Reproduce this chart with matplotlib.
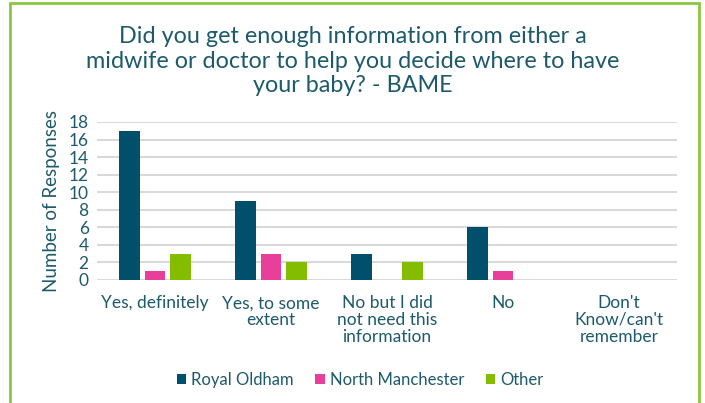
import numpy as np
import matplotlib.pyplot as plt
from matplotlib.patches import Rectangle

categories = ["Yes, definitely", "Yes, to some\nextent", "No but I did\nnot need this\ninformation",
              "No", "Don't\nKnow/can't\nremember"]
series_names = ["Royal Oldham", "North Manchester", "Other"]
royal_oldham = [17, 9, 3, 6, 0]
north_manchester = [1, 3, 0, 1, 0]
other = [3, 2, 2, 0, 0]
y_ticks = [0, 2, 4, 6, 8, 10, 12, 14, 16, 18]

colors = ["#004F6B", "#E8409A", "#84BD00"]
text_col = "#1D5A6B"

plt.rcParams["font.family"] = ["Lato", "DejaVu Sans"]

fig = plt.figure(figsize=(7.05, 4.03), dpi=100)
ax = fig.add_axes([97 / 705, 1 - 280 / 403, 580 / 705, 158 / 403])

x = np.arange(len(categories))
w = 0.175
step = 0.22
for i, (vals, name) in enumerate(zip([royal_oldham, north_manchester, other], series_names)):
    ax.bar(x + (i - 1) * step, vals, width=w, color=colors[i], label=name, zorder=3)

ax.set_xlim(-0.5, len(categories) - 0.5)
ax.set_ylim(0, 18)
ax.set_yticks(y_ticks)
ax.yaxis.grid(True, color="#D9D9D9", linewidth=1.5, zorder=0)
for s in ax.spines.values():
    s.set_visible(False)
ax.tick_params(axis="both", length=0, labelsize=12.5, colors=text_col, pad=6)
ax.set_xticks(x)
ax.set_xticklabels(categories, va="top", linespacing=1.05)
ax.tick_params(axis="x", pad=11)
ax.set_ylabel("Number of Responses", fontsize=13.5, color=text_col, labelpad=6)

fig.text(0.5, 1 - 61 / 403, "Did you get enough information from either a\n"
         "midwife or doctor to help you decide where to have\nyour baby? - BAME",
         ha="center", va="center", fontsize=16.8, color=text_col, linespacing=1.2)

leg = fig.legend(loc="center", bbox_to_anchor=(360 / 705, 1 - 380 / 403), ncol=3, frameon=False,
                 fontsize=12, handlelength=0.55, handleheight=0.55, handletextpad=0.3, columnspacing=1.3)
for t in leg.get_texts():
    t.set_color(text_col)

fig.patches.append(Rectangle((10 / 705, -0.05), 689 / 705, 1.05 - 3 / 403, transform=fig.transFigure,
                             fill=False, edgecolor="#8CC63F", linewidth=2, clip_on=False))

fig.savefig("out.png", dpi=100)
